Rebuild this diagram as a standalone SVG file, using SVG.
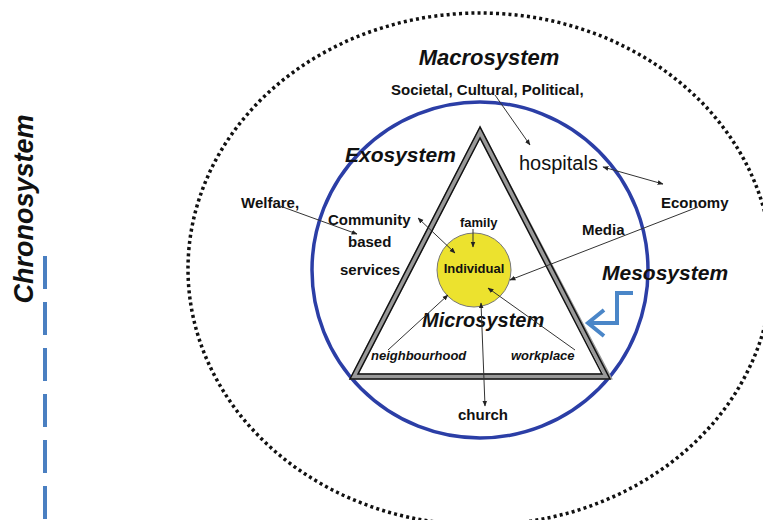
<svg xmlns="http://www.w3.org/2000/svg" width="763" height="520" viewBox="0 0 763 520">
<defs>
<marker id="ah" viewBox="0 0 10 10" refX="9" refY="5" markerWidth="6" markerHeight="6" orient="auto-start-reverse" markerUnits="userSpaceOnUse">
<path d="M0,1 L10,5 L0,9 Z" fill="#222"/>
</marker>
<style>
text{font-family:"Liberation Sans",Arial,sans-serif;fill:#111}
.b{font-weight:bold;font-size:15px}
.t{font-weight:bold;font-style:italic;font-size:21px}
.s{font-weight:bold;font-style:italic;font-size:13px}
.c line{stroke:#333;stroke-width:1;fill:none}
</style>
</defs>
<rect width="763" height="520" fill="#fff"/>
<g id="macrosystem">
<ellipse cx="480" cy="269" rx="292" ry="256" fill="none" stroke="#111" stroke-width="3.5" stroke-dasharray="3 3.2"/>
<text class="t" x="489" y="65" text-anchor="middle" style="font-size:22px">Macrosystem</text>
<text class="b" x="391" y="95">Societal, Cultural, Political,</text>
<text class="b" x="661" y="208">Economy</text>
<text class="b" x="241" y="208">Welfare,</text>
</g>
<g id="exosystem">
<circle cx="480" cy="270" r="168" fill="none" stroke="#2b3ea6" stroke-width="3.5"/>
<text class="t" x="345" y="162">Exosystem</text>
<text x="519" y="170" style="font-size:20px">hospitals</text>
<text class="b" x="582" y="235">Media</text>
<text class="b" x="328" y="225">Community</text>
<text class="b" x="348" y="247">based</text>
<text class="b" x="340" y="275">services</text>
<text class="b" x="458" y="420">church</text>
</g>
<g id="microsystem">
<polygon points="480,132.5 354.1,376.5 607.9,376.5" fill="#fff" stroke="#999" stroke-width="6"/>
<polygon points="480,127 350,379 610,379" fill="none" stroke="#111" stroke-width="1.5"/>
<polygon points="480,138 358,374 602,374" fill="none" stroke="#111" stroke-width="1.5"/>
<text class="t" x="422" y="327" style="font-size:20px">Microsystem</text>
<text class="b" x="460" y="227" style="font-size:13px">family</text>
<text class="s" x="371" y="360">neighbourhood</text>
<text class="s" x="511" y="360">workplace</text>
</g>
<g id="individual">
<circle cx="474" cy="270" r="37" fill="#ece22e" stroke="#777" stroke-width="1"/>
<text class="b" x="474" y="273" text-anchor="middle" style="font-size:13px">Individual</text>
</g>
<g id="mesosystem">
<text class="t" x="602" y="280">Mesosystem</text>
<polyline points="633,293 617,293 617,323 590,323" fill="none" stroke="#4a86c8" stroke-width="4"/>
<polyline points="604,310 588,323 604,336" fill="none" stroke="#4a86c8" stroke-width="4"/>
</g>
<g id="chronosystem">
<text class="t" transform="translate(33,209) rotate(-90)" text-anchor="middle" style="font-size:27px">Chronosystem</text>
<line x1="45" y1="256" x2="45" y2="520" stroke="#4a7fc1" stroke-width="4" stroke-dasharray="33 13"/>
</g>
<g id="connectors" class="c">
<line x1="495" y1="95" x2="530" y2="145" marker-end="url(#ah)"/>
<line x1="603" y1="167" x2="663" y2="184" marker-start="url(#ah)" marker-end="url(#ah)"/>
<line x1="698" y1="207" x2="510" y2="280" marker-end="url(#ah)"/>
<line x1="280" y1="206" x2="357" y2="234" marker-end="url(#ah)"/>
<line x1="418" y1="218" x2="455" y2="253" marker-start="url(#ah)" marker-end="url(#ah)"/>
<line x1="473" y1="229" x2="473" y2="247" marker-end="url(#ah)"/>
<line x1="388" y1="350" x2="448" y2="295" marker-end="url(#ah)"/>
<line x1="481" y1="303" x2="485" y2="406" marker-start="url(#ah)" marker-end="url(#ah)"/>
<line x1="575" y1="350" x2="488" y2="288" marker-end="url(#ah)"/>
</g>
</svg>
